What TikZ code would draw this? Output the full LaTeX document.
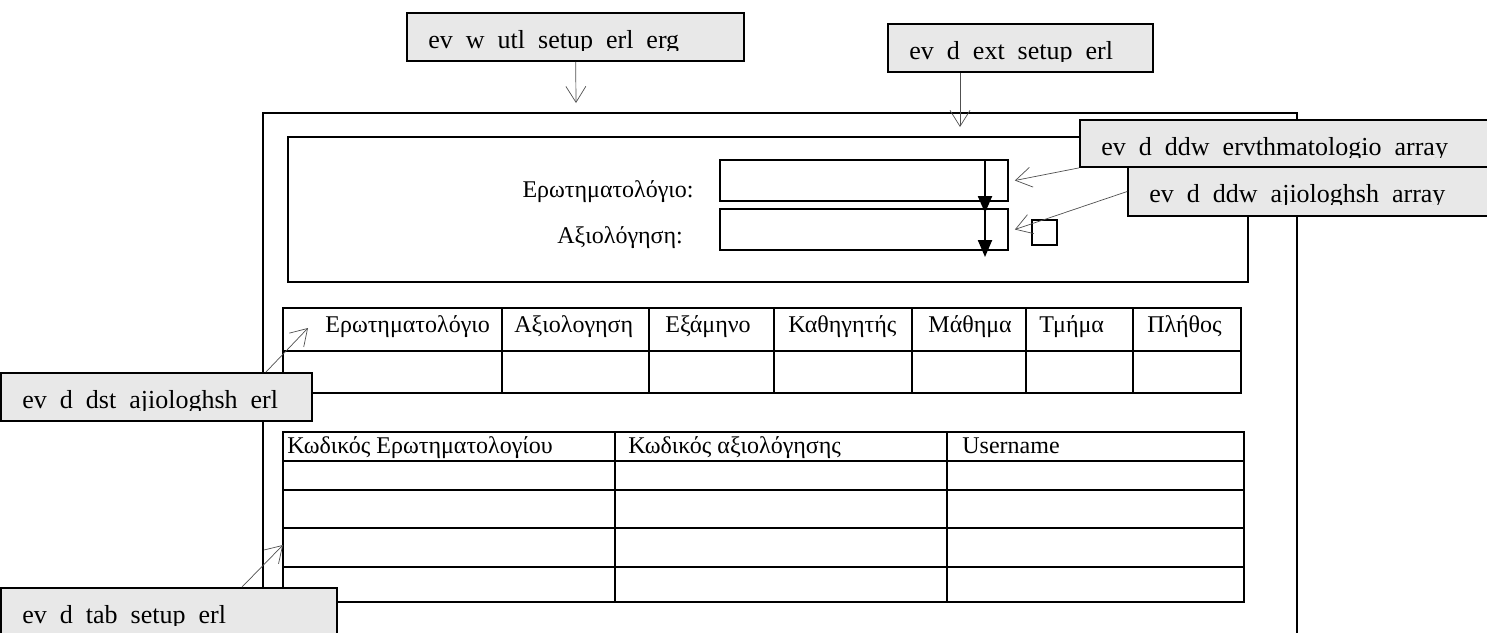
\documentclass[tikz,border=0pt]{standalone}
\usepackage{fontspec}
\setmainfont{Liberation Serif}
\usetikzlibrary{arrows.meta,fit}
\definecolor{tagfill}{HTML}{E8E8E8}
\definecolor{leadgrey}{HTML}{505050}

\begin{document}
\begin{tikzpicture}[x=0.5pt,y=-0.5pt,
  frame/.style={draw=black,line width=0.85pt},
  cell/.style={font=\fontsize{12}{14}\selectfont,anchor=base west,inner sep=0pt},
  combo/.style={draw=black,line width=0.85pt,inner sep=0pt},
  tag/.style={draw=black,line width=0.85pt,fill=tagfill,inner sep=0pt},
  tagtext/.style={font=\fontsize{13}{15}\selectfont,anchor=base west,inner sep=0pt},
  lead/.style={draw=leadgrey,line width=0.35pt,-{Straight Barb[length=8pt,width=10pt]}},
  drop/.style={line width=1.1pt,-{Triangle[length=8.5pt,width=7pt]}}
]
\useasboundingbox (0,0) rectangle (1487,632);
\fill[white] (0,0) rectangle (1487,632);

% outer window
\draw[frame] (263,650) -- (263,113) -- (1297,113) -- (1297,650);

% selection panel
\draw[frame] (288,137) rectangle (1248,282);
\node[cell,anchor=base east] (lq) at (694,197) {Ερωτηματολόγιο:};
\node[cell] (la) at (557,243) {Αξιολόγηση:};
\node[combo,fit={(720,160) (1008,201)}] (cbq) {};
\node[combo,fit={(720,209) (1008,250)}] (cba) {};
\node[combo,fit={(1032,220) (1057,245)}] (chk) {};
\draw[drop] (985,160) -- (985,213);
\draw[drop] (985,209) -- (985,257);

% results table
\draw[frame] (283,308) rectangle (1241,393);
\draw[frame] (283,351) -- (1241,351);
\foreach \x in {502,649,774,912,1026,1133}
  \draw[frame] (\x,308) -- (\x,393);
\foreach \x/\t [count=\i] in {325/Ερωτηματολόγιο,514/Αξιολογηση,665/Εξάμηνο,788/Καθηγητής,928/Μάθημα,1039/Τμήμα,1147/Πλήθος}
  \node[cell] (rh\i) at (\x,332) {\t};

% answers table
\draw[frame] (283,432) rectangle (1244,602);
\foreach \y in {461,490,528,567}
  \draw[frame] (283,\y) -- (1244,\y);
\foreach \x in {615,947}
  \draw[frame] (\x,432) -- (\x,602);
\node[cell] (ah1) at (287,453) {Κωδικός Ερωτηματολογίου};
\node[cell] (ah2) at (628,453) {Κωδικός αξιολόγησης};
\node[cell] (ah3) at (962,453) {Username};

% event tags (text cut just under the baseline)
\foreach \nm/\xa/\ya/\xb/\yb/\txt in {wutl/407/13/744/61/{ev\ \ w\ \ utl\ \ setup\ \ erl\ \ erg},ext/888/24/1153/72/{ev\ \ d\ \ ext\ \ setup\ \ erl},erv/1080/120/1510/167/{ev\ \ d\ \ ddw\ \ ervthmatologio\ \ array},ajl/1128/167/1510/216/{ev\ \ d\ \ ddw\ \ ajiologhsh\ \ array},dst/1/373/312/421/{ev\ \ d\ \ dst\ \ ajiologhsh\ \ erl},tab/1/588/337/650/{ev\ \ d\ \ tab\ \ setup\ \ erl}}{
  \node[tag,fit={(\xa,\ya) (\xb,\yb)}] (\nm) {};
  \begin{scope}
    \clip (\xa,\ya) rectangle (\xb,{\ya+37});
    \node[tagtext] (\nm-t) at ({\xa+21},{\ya+35}) {\txt};
  \end{scope}
}

% leads
\coordinate (wutltip) at (576,103);
\coordinate (exttip) at (960,127);
\coordinate (cbqtip) at ([xshift=3pt]cbq.east);
\coordinate (cbatip) at ([xshift=3pt]cba.east);
\coordinate (rtip) at (308,328);
\coordinate (ttip) at (283,545);
\draw[lead] (wutl) -- (wutltip);
\draw[lead] (ext.south -| exttip) -- (exttip);
\draw[lead] (erv.south west) -- (cbqtip);
\draw[lead] (ajl.west) -- (cbatip);
\draw[lead] ([xshift=-23.5pt]dst.north east) -- (rtip);
\draw[lead] ([xshift=-48pt]tab.north east) -- (ttip);
\end{tikzpicture}
\end{document}
